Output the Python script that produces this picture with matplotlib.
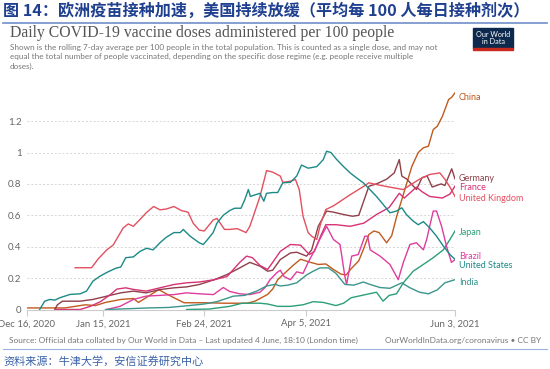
import numpy as np
import matplotlib.pyplot as plt
from matplotlib.patches import Rectangle
from matplotlib.lines import Line2D

# day offsets from Dec 16, 2020 and daily doses per 100 people (7-day avg)
china_days = [0, 15, 19, 23, 27, 31, 37, 42, 44, 48, 52, 55, 58, 62, 70, 78, 87, 90, 92, 95, 97, 99, 101, 103, 105, 108,
              112, 115, 118, 121, 124, 126, 128, 131, 133, 135, 137, 139, 142, 144, 146, 148, 150, 152, 154.5, 156.5,
              158.5, 160.4, 162, 164, 166.5, 167.6, 169]
china_vals = [0.01, 0.01, 0.02, 0.03, 0.025, 0.045, 0.064, 0.07, 0.045, 0.085, 0.127, 0.10, 0.075, 0.043, 0.043, 0.04,
              0.04, 0.053, 0.07, 0.096, 0.13, 0.19, 0.22, 0.25, 0.28, 0.32, 0.30, 0.287, 0.29, 0.255, 0.225, 0.22, 0.26,
              0.31, 0.39, 0.478, 0.5, 0.49, 0.425, 0.47, 0.595, 0.70, 0.807, 0.913, 1.0, 1.03, 1.04, 1.146, 1.167, 1.23,
              1.338, 1.35, 1.38]

germany_days = [11, 12, 14, 21, 26, 31.5, 37, 42, 47, 52.5, 58, 63, 68, 74, 79, 84, 88, 92, 95, 97, 100, 104, 106.5,
                110.4, 112.4, 115, 118.3, 121, 125, 128.5, 131, 135, 138, 142, 145, 147, 148, 150, 153.8, 156, 158,
                160, 163.5, 165, 167.7, 169]
germany_vals = [0.0, 0.03, 0.053, 0.053, 0.064, 0.085, 0.106, 0.117, 0.106, 0.127, 0.138, 0.144, 0.159, 0.19, 0.223,
                0.265, 0.30, 0.276, 0.244, 0.25, 0.318, 0.36, 0.365, 0.34, 0.38, 0.53, 0.627, 0.62, 0.605, 0.594, 0.60,
                0.785, 0.80, 0.83, 0.87, 0.955, 0.85, 0.83, 0.764, 0.84, 0.85, 0.78, 0.80, 0.79, 0.896, 0.832]

france_days = [11, 21, 25, 29, 33, 35.5, 39, 42, 47, 52.5, 58, 63, 68, 74, 79, 84, 86.7, 89, 92, 95, 97, 100, 104, 108,
               111.5, 113.5, 116, 118, 122, 127.6, 133, 138, 143, 147, 149, 153.8, 156, 159, 164, 167, 169]
france_vals = [0.0, 0.0, 0.02, 0.05, 0.096, 0.13, 0.138, 0.128, 0.117, 0.138, 0.159, 0.17, 0.175, 0.19, 0.21, 0.30,
               0.34, 0.33, 0.28, 0.255, 0.30, 0.37, 0.414, 0.41, 0.35, 0.37, 0.47, 0.54, 0.54, 0.53, 0.55, 0.605, 0.65,
               0.74, 0.71, 0.78, 0.75, 0.72, 0.71, 0.735, 0.786]

uk_days = [19, 25.5, 28, 31.5, 34, 38, 40, 42, 45, 47, 50, 52.5, 55, 58, 61, 63.6, 65.6, 68, 70, 73.5, 75, 78, 80, 83,
           86.5, 88, 92, 94.6, 97, 100, 101, 104, 106, 107.5, 109, 111, 112.4, 114.4, 116, 118, 121, 127.5, 133, 135,
           138, 143, 148.6, 152, 155, 159, 163, 165, 167, 169]
uk_vals = [0.266, 0.266, 0.32, 0.38, 0.41, 0.52, 0.545, 0.53, 0.58, 0.615, 0.656, 0.635, 0.64, 0.656, 0.63, 0.62, 0.55,
           0.506, 0.50, 0.57, 0.58, 0.51, 0.51, 0.515, 0.49, 0.53, 0.72, 0.885, 0.875, 0.85, 0.81, 0.817, 0.828, 0.764,
           0.594, 0.49, 0.467, 0.446, 0.55, 0.637, 0.66, 0.73, 0.785, 0.807, 0.796, 0.78, 0.764, 0.80, 0.83, 0.86, 0.87,
           0.83, 0.78, 0.72]

japan_days = [63, 72, 80, 85, 92, 95, 99, 104, 109, 113, 117, 122, 125, 128, 134, 138, 140.6, 143, 145.9, 148.6, 152.5,
              156.5, 160.4, 164.4, 167, 169]
japan_vals = [0.0, 0.003, 0.02, 0.04, 0.04, 0.035, 0.02, 0.02, 0.03, 0.05, 0.045, 0.025, 0.04, 0.075, 0.096, 0.11,
              0.053, 0.09, 0.10, 0.17, 0.244, 0.287, 0.33, 0.38, 0.446, 0.50]

brazil_days = [31.5, 36.7, 42, 47, 52.5, 58, 63, 68, 73.6, 77.5, 80, 84, 88, 92, 94, 96, 98.6, 100, 101.5, 104, 106.5,
               109, 111, 113, 115.7, 118.3, 121, 123.6, 125.5, 126.2, 128.2, 130.8, 133.4, 134.5, 135.5, 139.4, 143.3,
               146.6, 148.6, 151.2, 153.8, 156.5, 157.8, 160.4, 161.7, 163.7, 165.7, 167.6, 169]
brazil_vals = [0.0, 0.02, 0.064, 0.085, 0.09, 0.095, 0.106, 0.10, 0.095, 0.14, 0.115, 0.10, 0.095, 0.11, 0.14, 0.19,
               0.234, 0.25, 0.21, 0.19, 0.24, 0.23, 0.30, 0.36, 0.45, 0.53, 0.446, 0.414, 0.212, 0.159, 0.34, 0.35,
               0.467, 0.467, 0.38, 0.34, 0.287, 0.19, 0.30, 0.414, 0.425, 0.38, 0.446, 0.627, 0.627, 0.53, 0.40, 0.30,
               0.318]

us_days = [5, 7, 9, 11, 13, 17, 21, 23.5, 26, 28.6, 31.5, 34, 35.5, 37, 39, 42, 44.6, 47.2, 49.8, 52.5, 55, 58, 60.5,
           61.7, 64.4, 68, 69.6, 71, 73.5, 75, 77.5, 80, 82, 84.5, 86, 87.4, 88.2, 90, 92, 93.5, 94.6, 97, 99, 101, 104,
           106.5, 108.4, 111, 114.4, 117, 118.3, 120, 122.3, 125, 127.6, 130, 132.8, 135.4, 138, 140.6, 143.3, 145.9,
           148, 149.8, 152.5, 154.5, 156.5, 159, 161.7, 164.4, 167, 169]
us_vals = [0.0, 0.053, 0.064, 0.06, 0.075, 0.096, 0.10, 0.117, 0.18, 0.21, 0.236, 0.255, 0.265, 0.27, 0.33, 0.335,
           0.37, 0.39, 0.38, 0.425, 0.46, 0.49, 0.49, 0.51, 0.467, 0.425, 0.414, 0.44, 0.49, 0.55, 0.60, 0.63, 0.645,
           0.645, 0.70, 0.764, 0.72, 0.73, 0.74, 0.69, 0.74, 0.745, 0.745, 0.807, 0.81, 0.85, 0.92, 0.90, 0.91, 0.955,
           1.008, 1.0, 0.955, 0.91, 0.87, 0.84, 0.807, 0.764, 0.72, 0.67, 0.616, 0.627, 0.648, 0.605, 0.563, 0.54, 0.56,
           0.52, 0.467, 0.404, 0.35, 0.32]

india_days = [31, 40, 48, 56, 64, 70, 75, 81.5, 86, 90.7, 94.6, 98, 100, 103, 106.5, 110.4, 113, 115.7, 119, 122,
              125.5, 129, 132.8, 135.4, 139.4, 143.3, 148, 151, 155, 158.5, 162, 165, 167, 169]
india_vals = [0.0, 0.005, 0.01, 0.013, 0.025, 0.035, 0.05, 0.085, 0.09, 0.117, 0.15, 0.16, 0.15, 0.155, 0.17, 0.22,
              0.244, 0.265, 0.265, 0.23, 0.16, 0.155, 0.175, 0.16, 0.14, 0.135, 0.17, 0.14, 0.11, 0.10, 0.125, 0.17,
              0.18, 0.19]

names = ["China", "Germany", "France", "United Kingdom", "Japan", "Brazil", "United States", "India"]
series = [(china_days, china_vals), (germany_days, germany_vals), (france_days, france_vals), (uk_days, uk_vals),
          (japan_days, japan_vals), (brazil_days, brazil_vals), (us_days, us_vals), (india_days, india_vals)]
colors = ["#C05A1E", "#8E3F4A", "#D63274", "#E2505F", "#2C9E7A", "#DE3C9E", "#1B8A86", "#3A958C"]
label_y = [1.353, 0.837, 0.774, 0.710, 0.493, 0.340, 0.283, 0.169]

tick_days = [0, 30, 70, 110, 169]
tick_labels = ["Dec 16, 2020", "Jan 15, 2021", "Feb 24, 2021", "Apr 5, 2021", "Jun 3, 2021"]
y_ticks = [0, 0.2, 0.4, 0.6, 0.8, 1, 1.2]

W, H = 550, 369
fig = plt.figure(figsize=(5.5, 3.69), dpi=100)
fig.patch.set_facecolor("white")

cjk = ["Noto Sans CJK SC", "DejaVu Sans"]
fig.text(3 / W, 1 - 11 / H, "图 14：欧洲疫苗接种加速，美国持续放缓（平均每 100 人每日接种剂次）",
         family=cjk, fontsize=11.6, fontweight="bold", color="#1F3F8F", va="center", ha="left")
fig.add_artist(Line2D([3 / W, 547 / W], [1 - 23 / H, 1 - 23 / H], color="#6F8FCB", lw=1.2))

fig.text(10 / W, 1 - 33 / H, "Daily COVID-19 vaccine doses administered per 100 people",
         family="Liberation Serif", fontsize=11.3, color="#555555", va="center", ha="left")
sub = ("Shown is the rolling 7-day average per 100 people in the total population. This is counted as a single dose, and may not\n"
       "equal the total number of people vaccinated, depending on the specific dose regime (e.g. people receive multiple\n"
       "doses).")
fig.text(10 / W, 1 - 44 / H, sub, family="Lato", fontsize=5.9, color="#777777", va="top", ha="left", linespacing=1.35)

# logo
fig.add_artist(Rectangle((473 / W, 1 - 48 / H), 40 / W, 20 / H, color="#0D2A4E", transform=fig.transFigure))
fig.add_artist(Rectangle((473 / W, 1 - 50 / H), 40 / W, 2 / H, color="#C8281E", transform=fig.transFigure))
fig.text(493 / W, 1 - 38 / H, "Our World\nin Data", family="Lato", fontsize=5.2, color="white",
         ha="center", va="center", linespacing=1.0)

ax = fig.add_axes([27 / W, 1 - 309.5 / H, 428 / W, 1.4 * 157 / H])
for (d, v), c in zip(series, colors):
    ax.plot(d, v, color=c, lw=1.0)
ax.set_xlim(0, 169)
ax.set_ylim(0, 1.4)
for s in ["top", "right", "left"]:
    ax.spines[s].set_visible(False)
ax.spines["bottom"].set_color("#cccccc")
ax.set_yticks(y_ticks)
ax.set_yticklabels(["0", "0.2", "0.4", "0.6", "0.8", "1", "1.2"])
ax.tick_params(axis="y", length=0, pad=4, labelsize=7, labelcolor="#666666")
ax.set_xticks(tick_days)
ax.set_xticklabels(tick_labels)
ax.tick_params(axis="x", length=4, color="#cccccc", pad=3, labelsize=6.9, labelcolor="#666666")
for lbl in ax.get_xticklabels() + ax.get_yticklabels():
    lbl.set_family("Lato")
for yv in y_ticks[1:]:
    ax.axhline(yv, color="#d5d5d5", lw=0.7, ls=(0, (2, 2)), zorder=0)

for n, c, ly in zip(names, colors, label_y):
    ax.text(170.5, ly, n, color=c, fontsize=6.5, family="Lato", va="center", ha="left", clip_on=False)

fig.text(9 / W, 1 - 340 / H, "Source: Official data collated by Our World in Data – Last updated 4 June, 18:10 (London time)",
         family="Lato", fontsize=6.0, color="#777777", va="center", ha="left")
fig.text(541 / W, 1 - 340 / H, "OurWorldInData.org/coronavirus • CC BY",
         family="Lato", fontsize=6.0, color="#777777", va="center", ha="right")
fig.add_artist(Line2D([3 / W, 547 / W], [1 - 349 / H, 1 - 349 / H], color="#9DB3DD", lw=0.8))
fig.text(3 / W, 1 - 361 / H, "资料来源：牛津大学，安信证券研究中心", family=cjk, fontsize=8,
         color="#3A62A8", va="center", ha="left", style="italic")

fig.savefig("out.png", dpi=100)
